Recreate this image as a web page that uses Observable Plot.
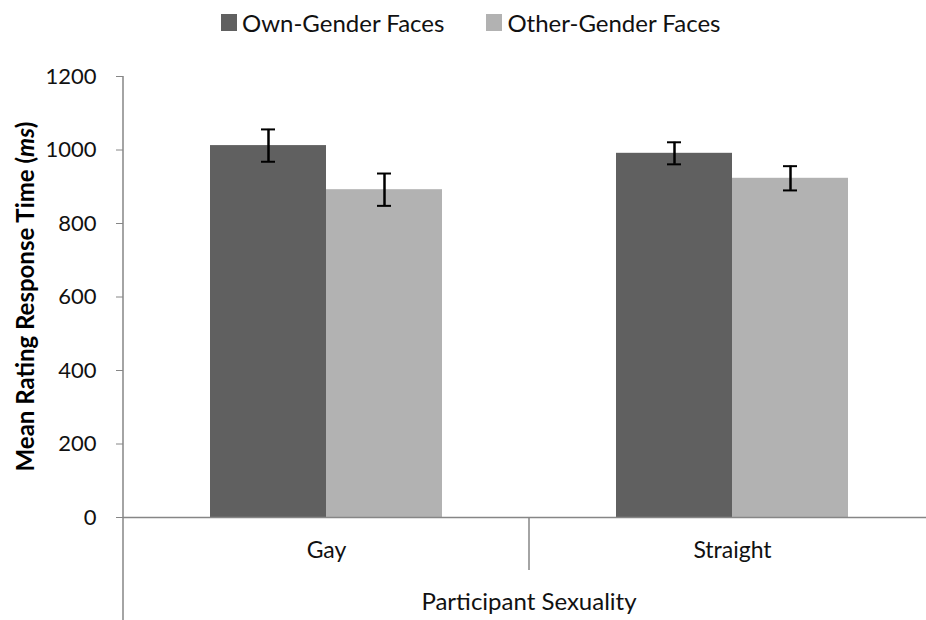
<!DOCTYPE html>
<html>
<head>
<meta charset="utf-8">
<script src="https://cdn.jsdelivr.net/npm/d3@7"></script>
<script src="https://cdn.jsdelivr.net/npm/@observablehq/plot@0.6"></script>
<style>
  html, body { margin: 0; padding: 0; background: #fff; }
  #wrap { position: relative; width: 926px; height: 620px; overflow: hidden; font-family: Lato, sans-serif; }
  #legend { position: absolute; top: 8px; left: 221px; display: flex; align-items: center; font-size: 24px; color: #111; white-space: nowrap; }
  .sw { display: inline-block; width: 16px; height: 17px; margin-right: 5px; }
  .item { display: flex; align-items: center; margin-right: 42px; }
</style>
</head>
<body>
<div id="wrap"><div id="legend"></div></div>
<script>
const categories = ["Gay", "Straight"];
const series = ["Own-Gender Faces", "Other-Gender Faces"];
const colors = ["#606060", "#b2b2b2"];
const ownMeans = [1012, 991];
const otherMeans = [892, 923];
const ownSE = [44, 30];
const otherSE = [44, 33];
const yTicks = [0, 200, 400, 600, 800, 1000, 1200];
const yLabel = "Mean Rating Response Time (";
const yLabelUnit = "ms";
const xTitle = "Participant Sexuality";

const rows = [];
categories.forEach((c, i) => {
  rows.push({cat: c, ser: series[0], mean: ownMeans[i], lo: ownMeans[i] - ownSE[i], hi: ownMeans[i] + ownSE[i]});
  rows.push({cat: c, ser: series[1], mean: otherMeans[i], lo: otherMeans[i] - otherSE[i], hi: otherMeans[i] + otherSE[i]});
});

const axisColor = "#868686";
const plot = Plot.plot({
  width: 926,
  height: 620,
  marginTop: 76,
  marginBottom: 103,
  marginLeft: 123,
  marginRight: -9,
  style: {fontFamily: "Lato, sans-serif", fontSize: "22px", color: "#111", background: "transparent"},
  fx: {domain: categories, padding: 0, label: null, axis: null},
  x: {domain: series, paddingInner: 0, paddingOuter: 0.746, axis: null},
  y: {domain: [0, 1200], ticks: yTicks, label: null, axis: null},
  color: {domain: series, range: colors},
  marks: [
    Plot.barY(rows, {fx: "cat", x: "ser", y: "mean", fill: "ser"}),
    Plot.ruleX(rows, {fx: "cat", x: "ser", y1: "lo", y2: "hi", stroke: "#000", strokeWidth: 2.5}),
    Plot.tickY(rows, {fx: "cat", x: "ser", y: "lo", stroke: "#000", strokeWidth: 2, insetLeft: 51, insetRight: 51}),
    Plot.tickY(rows, {fx: "cat", x: "ser", y: "hi", stroke: "#000", strokeWidth: 2, insetLeft: 51, insetRight: 51}),
    Plot.ruleY([0], {stroke: axisColor, strokeWidth: 1.5}),
    Plot.axisY({ticks: yTicks, tickSize: 7, tickPadding: 20, stroke: axisColor, tickFormat: d => String(d), label: null, fontSize: 22, fill: "#111"}),
    Plot.axisFx({anchor: "bottom", tickSize: 0, tickPadding: 24, label: null, fontSize: 23, fill: "#111"})
  ]
});

document.getElementById("wrap").appendChild(plot);

// extra axis structure drawn from the plot's scales
const svg = d3.select(plot);
const fx = plot.scale("fx");
const y = plot.scale("y");
const y0 = y.apply(0);
const yTop = y.apply(1200);
const xLeft = fx.apply(categories[0]);
const xDiv = fx.apply(categories[1]);
const xRight = fx.range[1];

svg.append("line").attr("x1", xLeft).attr("x2", xLeft).attr("y1", yTop).attr("y2", 620)
  .attr("stroke", axisColor).attr("stroke-width", 1.5);
svg.append("line").attr("x1", xDiv).attr("x2", xDiv).attr("y1", y0).attr("y2", y0 + 53)
  .attr("stroke", axisColor).attr("stroke-width", 1.5);

svg.append("text")
  .attr("x", (xLeft + xRight) / 2).attr("y", 610)
  .attr("text-anchor", "middle").attr("font-size", 24).attr("fill", "#111")
  .text(xTitle);

const yl = svg.append("text")
  .attr("transform", `translate(34,${(yTop + y0) / 2}) rotate(-90)`)
  .attr("text-anchor", "middle").attr("font-size", 24).attr("font-weight", "bold").attr("fill", "#000");
yl.append("tspan").text(yLabel);
yl.append("tspan").attr("font-style", "italic").text(yLabelUnit);
yl.append("tspan").text(")");

// legend
const leg = document.getElementById("legend");
series.forEach((s, i) => {
  const it = document.createElement("div");
  it.className = "item";
  const sw = document.createElement("span");
  sw.className = "sw";
  sw.style.background = colors[i];
  const t = document.createElement("span");
  t.textContent = s;
  it.appendChild(sw); it.appendChild(t);
  leg.appendChild(it);
});
</script>
</body>
</html>
